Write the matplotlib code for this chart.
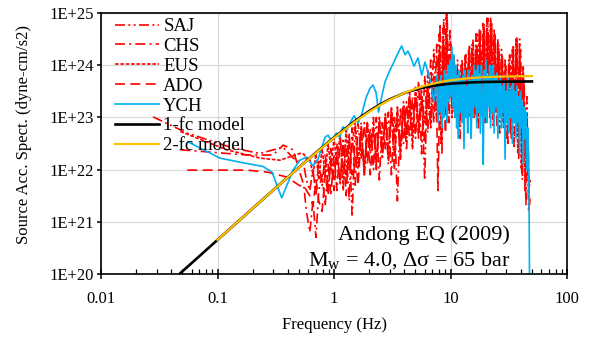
import numpy as np
import matplotlib
matplotlib.use("Agg")
import matplotlib.pyplot as plt
from matplotlib.ticker import (FixedLocator, FixedFormatter, LogLocator,
                               NullFormatter, NullLocator)

plt.rcParams['font.family'] = ['Liberation Serif', 'DejaVu Serif']
plt.rcParams['mathtext.fontset'] = 'custom'
plt.rcParams['mathtext.rm'] = 'Liberation Serif'
plt.rcParams['mathtext.it'] = 'Liberation Serif:italic'

# ---------------------------------------------------------------
# Source acceleration spectra, values are log10(dyne-cm/s^2)
# ---------------------------------------------------------------
# frequency samples (Hz) of the broadband part of the red records
freq_lo = [0.55, 0.58, 0.62, 0.66, 0.70, 0.74, 0.79, 0.84, 0.89, 0.94,
           1.00, 1.06, 1.13, 1.20, 1.27, 1.35, 1.43, 1.52, 1.61, 1.71,
           1.82, 1.93, 2.05, 2.18, 2.31, 2.45, 2.60, 2.76, 2.93, 3.11,
           3.30, 3.50, 3.72, 3.95, 4.19, 4.45, 4.72, 5.01, 5.32, 5.65,
           6.00, 6.37, 6.76, 7.18, 7.62]
freq_hi_a = [8.0, 8.3, 8.6, 8.9, 9.2, 9.5, 9.9, 10.3, 10.7, 11.1,
             11.5, 11.9, 12.3, 12.8, 13.3, 13.8, 14.3, 14.8, 15.3, 15.9,
             16.5, 17.1, 17.7, 18.4, 19.1, 19.8, 20.5, 21.3, 22.1, 22.9,
             23.7, 24.6, 25.5, 26.4, 27.4, 28.4, 29.4, 30.5, 31.6, 32.8,
             34.0, 35.2, 36.5, 37.8, 39.2, 40.6, 42.1, 43.6, 45.2, 46.8, 48.5]
freq_hi_b = [7.8, 8.15, 8.45, 8.75, 9.05, 9.35, 9.7, 10.1, 10.5, 10.9,
             11.3, 11.7, 12.1, 12.55, 13.05, 13.55, 14.05, 14.55, 15.05, 15.6,
             16.2, 16.8, 17.4, 18.05, 18.75, 19.45, 20.15, 20.9, 21.7, 22.5,
             23.3, 24.15, 25.05, 25.95, 26.9, 27.9, 28.9, 29.95, 31.05, 32.2,
             33.4, 34.6, 35.85, 37.15, 38.5, 39.9, 41.35, 42.85, 44.4, 46.0, 47.6]

# SAJ station
saj_low_f = [0.028, 0.055, 0.137, 0.232, 0.365, 0.446]
saj_low = [23.01, 22.70, 22.41, 22.31, 22.43, 22.22]
saj_grid = [22.1, 21.8, 21.6, 22.0, 21.5, 22.2, 21.7, 22.3, 21.6, 22.4,
            21.8, 22.5, 21.7, 22.6, 21.9, 22.7, 21.1, 22.8, 22.0, 22.9,
            21.9, 22.9, 22.3, 23.0, 22.0, 22.9, 22.2, 23.1, 22.1, 23.1,
            22.0, 23.2, 22.2, 23.3, 22.7, 23.5, 22.8, 23.5, 22.9, 23.6,
            21.8, 23.9, 23.0, 24.3, 23.2,
            24.6, 23.3, 24.7, 23.5, 25.0, 23.6, 24.7, 23.2, 24.2, 23.3,
            24.1, 22.8, 24.0, 23.2, 24.2, 23.1, 24.3, 23.3, 24.4, 23.0,
            24.6, 23.4, 24.7, 23.2, 24.8, 23.5, 24.9, 23.3, 24.8, 23.6,
            24.7, 23.1, 24.5, 22.7, 24.3, 23.0, 24.1, 22.6, 24.1, 23.1,
            24.3, 22.4, 24.5, 23.0, 24.5, 22.9, 24.0, 22.4, 23.4, 21.2, 21.5]

# CHS station
chs_low_f = [0.048, 0.178, 0.300, 0.366, 0.445]
chs_low = [22.38, 22.28, 22.28, 22.47, 22.38]
chs_grid = [21.7, 21.2, 20.8, 21.4, 20.7, 21.6, 21.9, 21.3, 22.1, 21.5,
            22.3, 21.6, 22.6, 21.9, 22.4, 21.4, 22.8, 21.7, 22.9, 22.2,
            22.9, 22.1, 22.8, 22.0, 23.0, 21.8, 22.9, 22.4, 23.1, 21.9,
            23.0, 21.4, 23.2, 22.5, 23.3, 22.6, 23.4, 22.6, 23.7, 22.3,
            23.8, 22.7, 24.1, 22.9, 24.4,
            23.0, 24.8, 22.3, 24.9, 23.2, 25.0, 23.4, 24.4, 23.1, 24.0,
            23.4, 23.9, 22.6, 24.1, 23.3, 24.2, 22.9, 24.4, 23.2, 24.5,
            23.3, 24.6, 22.8, 24.7, 23.4, 24.8, 23.0, 24.9, 23.5, 24.7,
            22.8, 24.6, 23.3, 24.4, 23.1, 24.2, 22.8, 24.0, 23.0, 24.2,
            22.6, 24.4, 23.1, 24.55, 22.2, 24.3, 21.8, 23.7, 21.3, 22.8, 21.3]

# EUS station
eus_low_f = [0.048, 0.120, 0.232, 0.344, 0.51]
eus_low = [22.73, 22.38, 22.22, 22.18, 22.31]
eus_grid = [22.3, 22.2, 22.2, 21.9, 22.3, 21.8, 22.4, 21.9, 22.5, 22.0,
            22.6, 22.1, 22.7, 21.6, 22.8, 22.0, 22.5, 22.9, 22.2, 22.8,
            21.9, 22.9, 22.4, 22.8, 22.1, 23.0, 22.5, 23.0, 22.2, 23.2,
            22.6, 23.1, 22.3, 23.2, 22.6, 23.4, 22.4, 23.6, 22.8, 23.4,
            22.9, 23.6, 22.8, 23.8, 22.9,
            24.2, 22.5, 24.5, 23.1, 24.7, 23.3, 24.2, 23.0, 23.9, 23.0,
            23.9, 23.3, 23.8, 23.0, 24.0, 23.2, 24.1, 23.0, 24.2, 23.4,
            24.3, 22.9, 24.5, 23.3, 24.6, 22.9, 24.7, 23.4, 24.9, 23.2,
            24.5, 23.3, 24.3, 23.0, 24.1, 22.9, 23.9, 23.2, 23.9, 22.7,
            24.1, 23.0, 24.3, 22.3, 24.3, 22.0, 23.8, 21.6, 23.1, 21.6, 21.8]

# ADO station
ado_low_f = [0.055, 0.18, 0.27, 0.39, 0.51]
ado_low = [21.99, 21.99, 21.95, 21.86, 21.69]
ado_grid = [21.7, 21.6, 21.5, 21.3, 21.8, 21.4, 21.2, 21.9, 21.5, 22.2,
            21.6, 22.3, 21.8, 22.5, 21.5, 22.6, 21.9, 22.3, 21.7, 22.7,
            22.0, 22.8, 21.9, 22.8, 22.2, 22.9, 22.3, 23.0, 22.4, 23.1,
            22.3, 22.9, 22.5, 23.2, 22.4, 23.2, 22.7, 23.4, 22.6, 23.3,
            22.5, 23.4, 22.9, 23.5, 23.1,
            21.6, 23.9, 23.0, 24.3, 22.7, 24.5, 22.9, 24.0, 23.4, 23.8,
            23.1, 23.7, 23.2, 23.9, 23.1, 23.9, 23.3, 24.0, 23.1, 24.2,
            23.0, 24.4, 23.2, 24.3, 23.0, 24.5, 23.3, 24.6, 23.0, 24.8,
            23.4, 24.4, 22.8, 24.2, 23.2, 24.0, 23.3, 23.8, 22.5, 24.0,
            23.2, 24.2, 22.9, 24.4, 23.1, 24.0, 22.6, 23.5, 22.0, 22.4, 21.4]

# YCH station
ych_low_f = [0.056, 0.105, 0.166, 0.246, 0.294, 0.356, 0.445, 0.51, 0.583, 0.66,
             0.73, 0.838, 0.89, 0.95, 1.05, 1.12, 1.19, 1.29, 1.40, 1.49,
             1.61, 1.74, 1.88, 2.04, 2.16, 2.30, 2.41, 2.53, 2.74, 3.03,
             3.27, 3.54, 3.81, 4.07, 4.31, 4.58, 4.86, 5.26, 5.66, 6.04,
             6.41, 6.80]
ych_low = [22.53, 22.22, 22.13, 22.06, 21.95, 21.46, 21.99, 22.18, 22.24, 22.07,
           22.20, 22.62, 22.66, 22.55, 22.70, 22.62, 22.82, 22.76, 22.93, 23.03,
           22.89, 23.08, 23.37, 23.56, 23.62, 23.47, 23.10, 23.33, 23.68, 23.91,
           24.06, 24.23, 24.37, 24.20, 24.27, 24.14, 23.98, 24.14, 23.81, 24.06,
           23.87, 23.64]
ych_hi_f = [7.18, 7.62, 7.8, 8.0, 8.15, 8.3, 8.45, 8.6, 8.75, 8.9,
            9.05, 9.2, 9.35, 9.5, 9.7, 9.9, 10.1, 10.3, 10.5, 10.7,
            10.9, 11.1, 11.3, 11.5, 11.7, 11.9, 12.1, 12.3, 12.55, 12.8,
            13.05, 13.3, 13.55, 13.8, 14.05, 14.3, 14.55, 14.8, 15.05, 15.3,
            15.6, 15.9, 16.2, 16.5, 16.8, 17.1, 17.4, 17.7, 18.05, 18.4,
            18.75, 19.1, 19.45, 19.8, 20.15, 20.5, 20.9, 21.3, 21.7, 22.1,
            22.5, 22.9, 23.3, 23.7, 24.15, 24.6, 25.05, 25.5, 25.95, 26.4,
            26.9, 27.4, 27.9, 28.4, 28.9, 29.4, 29.95, 30.5, 31.05, 31.6,
            32.2, 32.8, 33.4, 34.0, 34.6, 35.2, 35.85, 36.5, 37.15, 37.8,
            38.5, 39.2, 39.9, 40.6, 41.35, 42.1, 42.85, 43.6, 44.4, 45.2,
            46.0, 46.8, 47.3, 47.8]
ych_hi = [23.3, 23.8, 22.9, 23.7, 23.1, 23.8, 22.8, 23.6, 23.0, 23.9,
          23.2, 23.8, 22.9, 24.0, 23.3, 24.1, 23.4, 24.35, 23.2, 24.2,
          23.0, 24.0, 22.8, 23.8, 22.6, 23.9, 23.1, 23.7, 22.9, 23.8,
          22.4, 23.9, 23.0, 23.6, 22.7, 23.9, 23.1, 23.7, 22.6, 23.8,
          23.0, 24.0, 23.2, 23.9, 22.8, 24.0, 23.1, 23.8, 22.7, 24.0,
          23.3, 22.1, 23.9, 23.0, 24.1, 22.9, 23.8, 23.2, 24.0, 22.8,
          23.9, 23.1, 24.0, 22.7, 23.8, 23.2, 23.85, 22.6, 23.7, 23.0,
          23.8, 22.8, 23.6, 23.1, 23.7, 22.2, 23.5, 22.9, 23.8, 22.7,
          23.5, 23.0, 23.6, 22.5, 23.7, 22.9, 23.5, 22.6, 23.6, 22.9,
          23.4, 22.3, 23.5, 22.8, 23.3, 22.1, 23.2, 22.6, 23.1, 22.0,
          22.8, 22.3, 21.2, 19.5]

# Source models
model1_f = [0.0477, 0.07, 0.1, 0.2, 0.3, 0.5, 0.7, 1.0, 1.5, 2.0, 2.5,
            3.0, 4.0, 5.0, 6.0, 8.0, 10.0, 15.0, 20.0, 30.0, 50.0]
model1 = [20.01, 20.343, 20.653, 21.254, 21.604, 22.041, 22.324, 22.615,
          22.924, 23.120, 23.252, 23.346, 23.465, 23.534, 23.576, 23.622,
          23.646, 23.670, 23.679, 23.685, 23.689]
model2_f = [0.1, 0.15, 0.2, 0.3, 0.5, 0.7, 1.0, 1.5, 2.0, 2.5, 3.0, 4.0,
            5.0, 6.0, 8.0, 10.0, 15.0, 20.0, 30.0, 50.0]
model2 = [20.653, 21.004, 21.253, 21.603, 22.039, 22.319, 22.607, 22.910,
          23.104, 23.237, 23.335, 23.467, 23.550, 23.607, 23.674, 23.712,
          23.755, 23.772, 23.784, 23.791]

x_ticks = [0.01, 0.1, 1, 10, 100]
x_tick_labels = ['0.01', '0.1', '1', '10', '100']
y_ticks = [1e20, 1e21, 1e22, 1e23, 1e24, 1e25]
y_tick_labels = ['1E+20', '1E+21', '1E+22', '1E+23', '1E+24', '1E+25']


def amp(v):
    return 10.0 ** np.asarray(v, dtype=float)


fig = plt.figure(figsize=(5.92, 3.37), dpi=100)
ax = fig.add_axes([101 / 592, 63 / 337, 466 / 592, 261 / 337])

red = '#FF0000'
lw_red = 1.2
ax.plot(saj_low_f + freq_lo + freq_hi_a, amp(saj_low + saj_grid), color=red,
        lw=lw_red, ls=(0, (6, 2, 1.2, 2, 1.2, 2)), label='SAJ')
ax.plot(chs_low_f + freq_lo + freq_hi_b, amp(chs_low + chs_grid), color=red,
        lw=lw_red, ls=(0, (6, 2.5, 1.2, 2.5)), label='CHS')
ax.plot(eus_low_f + freq_lo + freq_hi_a, amp(eus_low + eus_grid), color=red,
        lw=lw_red, ls=(0, (2.2, 1.0)), label='EUS')
ax.plot(ado_low_f + freq_lo + freq_hi_b, amp(ado_low + ado_grid), color=red,
        lw=lw_red, ls=(0, (6, 3.2)), label='ADO')
ax.plot(ych_low_f + ych_hi_f, amp(ych_low + ych_hi), color='#00B0F0',
        lw=1.2, label='YCH')
ax.plot(model1_f, amp(model1), color='black', lw=1.9, label='1-fc model')
ax.plot(model2_f, amp(model2), color='#FFC000', lw=1.6, label='2-fc model')

ax.set_xscale('log')
ax.set_yscale('log')
ax.set_xlim(0.01, 100)
ax.set_ylim(1e20, 1e25)
ax.xaxis.set_major_locator(FixedLocator(x_ticks))
ax.xaxis.set_major_formatter(FixedFormatter(x_tick_labels))
ax.xaxis.set_minor_locator(LogLocator(base=10, subs=np.arange(2, 10)))
ax.xaxis.set_minor_formatter(NullFormatter())
ax.yaxis.set_major_locator(FixedLocator(y_ticks))
ax.yaxis.set_major_formatter(FixedFormatter(y_tick_labels))
ax.yaxis.set_minor_locator(NullLocator())
ax.grid(True, which='major', color='#D9D9D9', lw=0.9)
ax.set_axisbelow(True)
ax.tick_params(axis='x', which='major', direction='inout', length=7,
               width=1.1, labelsize=12, pad=9)
ax.tick_params(axis='x', which='minor', direction='in', length=3.5, width=0.9)
ax.tick_params(axis='y', which='major', direction='out', length=3,
               width=1.1, labelsize=12, pad=2)
for s in ax.spines.values():
    s.set_linewidth(1.2)

ax.legend(loc='upper left', bbox_to_anchor=(0.027, 0.988), frameon=False,
          fontsize=13.5, handlelength=2.3, handletextpad=0.25,
          labelspacing=0.145, borderpad=0.1, borderaxespad=0.0)

ax.text(0.878, 0.13, 'Andong EQ (2009)', transform=ax.transAxes,
        ha='right', va='baseline', fontsize=16)
ax.text(0.878, 0.034, r'M$_{\mathrm{w}}$ = 4.0, Δσ = 65 bar',
        transform=ax.transAxes, ha='right', va='baseline', fontsize=16)

fig.text(24 / 592, 0.6, 'Source Acc. Spect. (dyne-cm/s2)', rotation=90,
         ha='center', va='center', fontsize=12)
fig.text(334 / 592, 1 - 325 / 337, 'Frequency (Hz)', ha='center',
         va='center', fontsize=12)

fig.savefig('out.png', dpi=100)
